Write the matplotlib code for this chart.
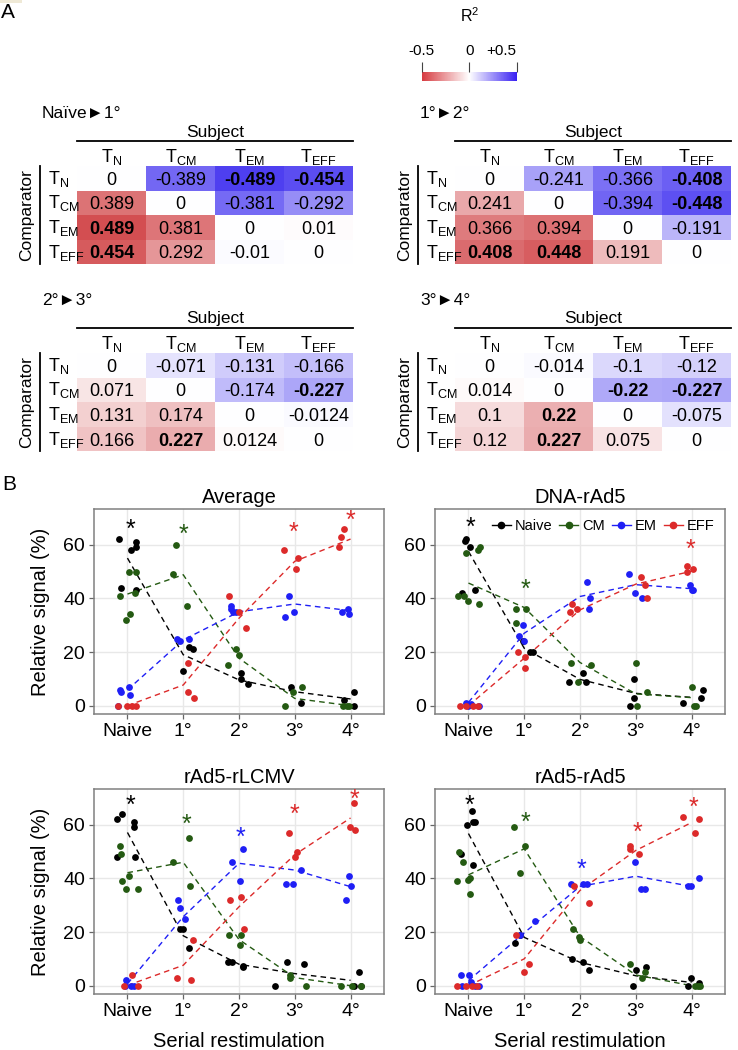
import matplotlib
matplotlib.use('Agg')
import matplotlib.pyplot as plt
import matplotlib.colorbar as mcb
from matplotlib.colors import LinearSegmentedColormap, Normalize
from matplotlib.lines import Line2D
from matplotlib.patches import Rectangle

plt.rcParams['font.family'] = ['Liberation Sans', 'DejaVu Sans']
plt.rcParams['mathtext.default'] = 'regular'

# ---------------- panel A data (R^2 tables) ----------------
cell_names = ['T$_{N}$', 'T$_{CM}$', 'T$_{EM}$', 'T$_{EFF}$']

t1_title = 'Naïve►1°'
t1_vals = [[0, -0.389, -0.489, -0.454],
           [0.389, 0, -0.381, -0.292],
           [0.489, 0.381, 0, 0.01],
           [0.454, 0.292, -0.01, 0]]
t1_bold = [[0, 0, 1, 1], [0, 0, 0, 0], [1, 0, 0, 0], [1, 0, 0, 0]]

t2_title = '1°►2°'
t2_vals = [[0, -0.241, -0.366, -0.408],
           [0.241, 0, -0.394, -0.448],
           [0.366, 0.394, 0, -0.191],
           [0.408, 0.448, 0.191, 0]]
t2_bold = [[0, 0, 0, 1], [0, 0, 0, 1], [0, 0, 0, 0], [1, 1, 0, 0]]

t3_title = '2°►3°'
t3_vals = [[0, -0.071, -0.131, -0.166],
           [0.071, 0, -0.174, -0.227],
           [0.131, 0.174, 0, -0.0124],
           [0.166, 0.227, 0.0124, 0]]
t3_bold = [[0, 0, 0, 0], [0, 0, 0, 1], [0, 0, 0, 0], [0, 1, 0, 0]]

t4_title = '3°►4°'
t4_vals = [[0, -0.014, -0.1, -0.12],
           [0.014, 0, -0.22, -0.227],
           [0.1, 0.22, 0, -0.075],
           [0.12, 0.227, 0.075, 0]]
t4_bold = [[0, 0, 0, 0], [0, 0, 1, 1], [0, 1, 0, 0], [0, 1, 0, 0]]

# ---------------- panel B data (relative signal %) ----------------
stages = ['Naive', '1°', '2°', '3°', '4°']
subsets = ['Naive', 'CM', 'EM', 'EFF']
colors = ['#000000', '#245a12', '#1f1ff5', '#dc2a2a']

# Average
avg_naive_x = [-0.16, -0.12, 0.07, 0.15, 0.15, 0.16, 1.0, 1.11, 1.17, 2.04, 2.04, 2.16, 2.93, 3.12, 3.88, 4.07, 4.07]
avg_naive_y = [62, 44, 58, 61, 59, 43, 13, 22, 21, 12, 10, 8, 7, 1, 2, 5, 0]
avg_cm_x = [-0.14, -0.02, 0.05, 0.03, 0.16, 0.14, 0.82, 0.87, 1.06, 1.8, 1.94, 2.0, 2.83, 2.97, 3.13, 3.86, 3.94, 3.98]
avg_cm_y = [41, 32, 34, 50, 50, 42, 49, 60, 37, 15, 21, 19, 0, 5, 7, 0, 0, 0]
avg_em_x = [-0.13, -0.12, 0.02, 0.05, -0.17, 0.88, 0.94, 1.1, 1.86, 1.86, 1.9, 1.95, 2.83, 2.9, 2.99, 3.85, 3.95, 3.98]
avg_em_y = [6, 5, 7, 4, 0, 25, 24, 25, 37, 36, 35, 35, 33, 41, 35, 35, 36, 34]
avg_eff_x = [-0.17, 0.0, 0.09, 0.15, 1.09, 1.08, 1.2, 1.82, 2.0, 2.12, 2.8, 3.02, 3.06, 3.82, 3.8, 3.89]
avg_eff_y = [0, 0, 0, 0, 16, 5, 3, 41, 35, 29, 58, 51, 55, 63, 59, 66]
avg_line_naive = [55, 19, 9.6, 5.2, 2.5]
avg_line_cm = [41.6, 48.8, 17.7, 2.7, 0]
avg_line_em = [5.9, 24.5, 35, 37.9, 35.4]
avg_line_eff = [0, 7.7, 32.6, 53.8, 62.1]
avg_star_x = [0.06, 1.0, 2.98, 4.0]
avg_star_y = [67.5, 65.4, 66.3, 70.6]
avg_star_c = [0, 1, 3, 3]

# DNA-rAd5
dna_naive_x = [-0.06, -0.05, -0.11, 0.03, 0.11, 0.97, 1.11, 1.15, 1.81, 2.05, 2.1, 2.9, 2.96, 2.96, 3.85, 4.17, 4.21]
dna_naive_y = [61.5, 62.3, 42, 59, 43, 24, 20, 20, 9, 12, 9, 0, 3, 10, 1, 3, 6]
dna_cm_x = [-0.19, -0.08, -0.05, -0.01, 0.18, 0.17, 0.2, 0.86, 0.86, 1.04, 1.83, 1.96, 2.2, 3.0, 3.02, 3.2, 4.01, 4.05, 4.08]
dna_cm_y = [41, 41, 57, 39, 38, 58, 59, 36, 31, 36, 16, 9, 15, 16, 0, 5, 7, 0, 0]
dna_em_x = [-0.04, 0.0, 0.05, 0.18, 0.91, 0.97, 0.99, 2.12, 2.17, 2.18, 2.88, 2.99, 3.11, 3.98, 4.01, 4.03]
dna_em_y = [1, 0, 0.5, 0, 26, 30, 24, 46, 36, 40, 49, 42, 40, 45, 43, 43]
dna_eff_x = [-0.15, -0.05, 0.08, 0.17, 0.89, 1.01, 1.02, 1.85, 1.82, 1.94, 3.09, 3.16, 3.2, 3.91, 3.92, 4.03]
dna_eff_y = [0, 0, 0, 0, 20, 18, 14, 38, 35, 36, 48, 45, 40, 52, 50, 51]
dna_line_naive = [57.5, 21.4, 9.8, 4.6, 3.1]
dna_line_cm = [45.7, 36.6, 16.1, 4.4, 3.0]
dna_line_em = [1.2, 27, 40.7, 45.1, 43.6]
dna_line_eff = [0, 17.7, 35.7, 45.3, 50.1]
dna_star_x = [0.03, 1.03, 3.98]
dna_star_y = [68.1, 44.8, 60]
dna_star_c = [0, 1, 3]

# rAd5-rLCMV
lcmv_naive_x = [-0.18, -0.09, 0.12, 0.11, 0.13, -0.18, 0.94, 0.99, 1.11, 1.8, 1.88, 2.07, 2.07, 2.86, 2.65, 3.17, 4.16, 4.07, 4.19]
lcmv_naive_y = [62, 64, 61, 59, 48, 48, 21, 21, 14, 9, 9, 7, 7.5, 9, 0, 8, 5, 0, 0]
lcmv_cm_x = [-0.14, -0.11, 0.02, -0.09, -0.02, 0.18, 0.81, 1.11, 1.12, 1.82, 2.03, 2.02, 2.91, 2.91, 3.21, 3.82, 4.03, 4.18]
lcmv_cm_y = [52, 49, 41, 39, 36, 36, 46, 55, 37, 19, 19, 15, 4, 3, 0, 0, 0, 0]
lcmv_em_x = [-0.03, -0.05, 0.06, 0.11, 0.9, 0.94, 1.04, 1.88, 2.07, 2.02, 2.85, 2.97, 3.12, 3.92, 3.98, 4.01]
lcmv_em_y = [2, 0, 0, 0, 32, 29, 25, 46, 51, 39, 38, 38, 43, 32, 41, 37]
lcmv_eff_x = [-0.06, 0.09, 0.18, 0.89, 1.18, 1.14, 1.83, 2.04, 2.09, 2.9, 3.01, 3.04, 3.99, 4.06, 4.08]
lcmv_eff_y = [0, 4, 0, 3, 17, 2, 32, 33, 21, 57, 48, 50, 59, 68, 58]
lcmv_line_naive = [57.1, 18.6, 8, 4.5, 2]
lcmv_line_cm = [42.1, 46, 17.2, 3, 0]
lcmv_line_em = [0.7, 25.7, 45.6, 43.1, 36.9]
lcmv_line_eff = [0.1, 7.6, 29.4, 48.8, 62.5]
lcmv_star_x = [0.05, 1.05, 2.02, 3.0, 4.07]
lcmv_star_y = [68.7, 61.8, 56.9, 65.6, 71.2]
lcmv_star_c = [0, 1, 2, 3, 3]

# rAd5-rAd5
ad5_naive_x = [-0.02, 0.07, 0.08, 0.11, -0.13, 0.08, 0.84, 0.93, 1.86, 2.05, 2.16, 2.95, 3.01, 3.18, 3.94, 3.99, 4.14]
ad5_naive_y = [60, 65, 61, 61, 49, 45, 16, 19, 10, 9, 6, 0, 6, 7, 0, 3, 1]
ad5_cm_x = [-0.2, -0.17, -0.1, 0.0, 0.02, 0.03, 0.81, 1.02, 0.92, 1.88, 1.99, 2.0, 2.9, 3.12, 3.17, 4.06, 4.15, 4.12]
ad5_cm_y = [39, 50, 46, 39.5, 40, 34, 59, 52, 42, 21, 18, 17, 8, 3, 5, 0, 0, 0]
ad5_em_x = [-0.13, 0.01, -0.11, 0.04, 0.12, 0.19, 0.93, 1.19, 1.84, 2.05, 2.12, 2.99, 3.09, 3.17, 3.93, 3.99, 4.14]
ad5_em_y = [4, 4, 0, 1.2, 0, 0, 19, 24, 38, 38, 38, 46, 36, 36, 37, 37, 40]
ad5_eff_x = [-0.2, -0.05, 0.07, 0.15, 0.86, 1.0, 1.08, 1.9, 2.17, 2.89, 2.9, 3.06, 3.85, 4.06, 4.13]
ad5_eff_y = [0, 0, 0, 0, 19, 5, 8, 37, 31, 52, 51, 49, 63, 57, 62]
ad5_line_naive = [56.7, 18, 8.7, 3.7, 1.2]
ad5_line_cm = [41.3, 51, 18.3, 4, 0]
ad5_line_em = [1.9, 19.7, 37, 40.8, 37]
ad5_line_eff = [0, 10, 35.5, 50.4, 60.8]
ad5_star_x = [0.01, 1.03, 2.03, 3.03, 4.03]
ad5_star_y = [68.9, 62.6, 44.8, 58.9, 67.9]
ad5_star_c = [0, 1, 2, 3, 3]

W, H = 738, 1050
fig = plt.figure(figsize=(W / 100, H / 100), dpi=100)
fig.patch.set_facecolor('white')

def px_rect(l, t, r, b):
    return [l / W, 1 - b / H, (r - l) / W, (b - t) / H]

# overlay in pixel coordinates for panel A
ov = fig.add_axes([0, 0, 1, 1])
ov.set_xlim(0, W)
ov.set_ylim(H, 0)
ov.axis('off')
ov.add_patch(Rectangle((0, 0), 22, 2.5, color='#efe9d6', lw=0))

ov.text(8, 13, 'A', fontsize=15, ha='center', va='center')
ov.text(9, 485, 'B', fontsize=15, ha='center', va='center')

r2_cmap = LinearSegmentedColormap.from_list('r2', ['#d24b4e', '#ffffff', '#4b3cf0'])
r2_norm = Normalize(-0.5, 0.5)
key_cmap = LinearSegmentedColormap.from_list('key', ['#d63a40', '#ffffff', '#3a22f2'])

# colour key
cax = fig.add_axes(px_rect(421.7, 71.7, 516.7, 81))
cb = mcb.ColorbarBase(cax, cmap=key_cmap, norm=r2_norm, orientation='horizontal', ticks=[-0.5, 0, 0.5])
cb.outline.set_visible(False)
cax.xaxis.set_ticks_position('top')
cax.set_xticklabels(['-0.5', '0', '+0.5'])
cax.tick_params(axis='x', length=7, width=0.8, color='#444444', labelsize=11, pad=3)
cax.get_xticklabels()[-1].set_horizontalalignment('right')
ov.text(470, 16, 'R$^{2}$', fontsize=11.5, ha='center', va='center')


def draw_table(x0, y0, title, vals, bold):
    cw, ch = 69, 24.6
    fs = 13
    ov.text(x0 - 35, y0 - 53, title, fontsize=12.5, ha='left', va='center')
    ov.text(x0 + 2 * cw, y0 - 34, 'Subject', fontsize=12.5, ha='center', va='center')
    ov.plot([x0, x0 + 4 * cw], [y0 - 25, y0 - 25], color='black', lw=1.3)
    for j, name in enumerate(cell_names):
        ov.text(x0 + (j + 0.5) * cw, y0 - 4, name, fontsize=13, ha='center', va='baseline')
    ov.plot([x0 - 37, x0 - 37], [y0, y0 + 4 * ch], color='black', lw=1.3)
    ov.text(x0 - 50, y0 + 2 * ch, 'Comparator', fontsize=12.5, rotation=90, ha='center', va='center')
    for i, name in enumerate(cell_names):
        ov.text(x0 - 29, y0 + (i + 0.5) * ch + 5.5, name, fontsize=13, ha='left', va='baseline')
        for j in range(4):
            v = vals[i][j]
            ov.add_patch(Rectangle((x0 + j * cw, y0 + i * ch), cw, ch,
                                   facecolor=r2_cmap(r2_norm(-v)), lw=0))
            ov.text(x0 + (j + 0.5) * cw, y0 + (i + 0.5) * ch + 6.4, '%g' % v, fontsize=fs,
                    ha='center', va='baseline', fontweight='bold' if bold[i][j] else 'normal')


draw_table(77, 166, t1_title, t1_vals, t1_bold)
draw_table(455, 166, t2_title, t2_vals, t2_bold)
draw_table(77, 353, t3_title, t3_vals, t3_bold)
draw_table(455, 353, t4_title, t4_vals, t4_bold)


def draw_panel(ax, title, pts, lines, star_x, star_y, star_c, left, bottom, legend=False):
    ax.set_xlim(-0.6, 4.6)
    ax.set_ylim(-3.1, 73.3)
    ax.set_facecolor('white')
    for s in ax.spines.values():
        s.set_color('#808080')
        s.set_linewidth(1.1)
    ax.set_xticks(range(5))
    ax.set_xticklabels(stages)
    ax.set_yticks([0, 20, 40, 60])
    ax.tick_params(length=3.5, width=0.9, color='#666666', labelsize=14, pad=3)
    ax.grid(True, color='#e8e8e8', lw=1.0)
    ax.set_axisbelow(True)
    for k, vals in enumerate(lines):
        ax.plot(range(5), vals, color=colors[k], lw=1.0, dashes=(4, 3), zorder=2)
    for k, (xs, ys) in enumerate(pts):
        ax.scatter(xs, ys, s=24, color=colors[k], linewidths=0, zorder=3)
    for x, y, c in zip(star_x, star_y, star_c):
        ax.annotate('*', (x, y), xytext=(0, -8.5), textcoords='offset points',
                    ha='center', va='baseline', fontsize=18, color=colors[c])
    ax.set_title(title, fontsize=14.5, pad=4)
    if left:
        ax.text(-0.183, 0.5, 'Relative signal (%)', transform=ax.transAxes, rotation=90,
                ha='center', va='center', fontsize=14.5)
    if bottom:
        ax.text(0.5, -0.234, 'Serial restimulation', transform=ax.transAxes,
                ha='center', va='center', fontsize=14.5)
    if legend:
        handles = [Line2D([0], [0], color=colors[k], marker='o', markersize=4.5, lw=1.0)
                   for k in range(4)]
        ax.legend(handles, subsets, loc='upper right', ncol=4, frameon=False, fontsize=10.5,
                  handlelength=1.3, handletextpad=0.3, columnspacing=0.45, borderaxespad=0.3)


ax1 = fig.add_axes(px_rect(94, 509, 384, 714))
ax2 = fig.add_axes(px_rect(435, 509, 725, 714))
ax3 = fig.add_axes(px_rect(94, 789, 384, 994))
ax4 = fig.add_axes(px_rect(435, 789, 725, 994))

draw_panel(ax1, 'Average',
           [(avg_naive_x, avg_naive_y), (avg_cm_x, avg_cm_y), (avg_em_x, avg_em_y), (avg_eff_x, avg_eff_y)],
           [avg_line_naive, avg_line_cm, avg_line_em, avg_line_eff],
           avg_star_x, avg_star_y, avg_star_c, left=True, bottom=False)
draw_panel(ax2, 'DNA-rAd5',
           [(dna_naive_x, dna_naive_y), (dna_cm_x, dna_cm_y), (dna_em_x, dna_em_y), (dna_eff_x, dna_eff_y)],
           [dna_line_naive, dna_line_cm, dna_line_em, dna_line_eff],
           dna_star_x, dna_star_y, dna_star_c, left=False, bottom=False, legend=True)
draw_panel(ax3, 'rAd5-rLCMV',
           [(lcmv_naive_x, lcmv_naive_y), (lcmv_cm_x, lcmv_cm_y), (lcmv_em_x, lcmv_em_y), (lcmv_eff_x, lcmv_eff_y)],
           [lcmv_line_naive, lcmv_line_cm, lcmv_line_em, lcmv_line_eff],
           lcmv_star_x, lcmv_star_y, lcmv_star_c, left=True, bottom=True)
draw_panel(ax4, 'rAd5-rAd5',
           [(ad5_naive_x, ad5_naive_y), (ad5_cm_x, ad5_cm_y), (ad5_em_x, ad5_em_y), (ad5_eff_x, ad5_eff_y)],
           [ad5_line_naive, ad5_line_cm, ad5_line_em, ad5_line_eff],
           ad5_star_x, ad5_star_y, ad5_star_c, left=False, bottom=True)

fig.savefig('out.png', dpi=100, facecolor='white')
